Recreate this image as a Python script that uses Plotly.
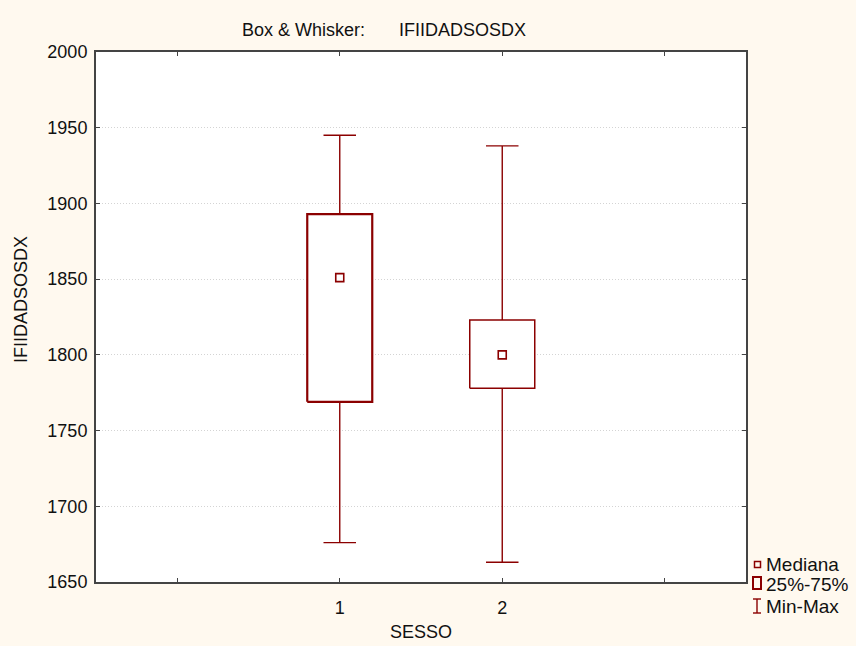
import plotly.graph_objects as go

# Summary statistics of IFIIDADSOSDX by SESSO
groups = [1, 2]
mins = [1676, 1663]
q1 = [1769, 1778]
medians = [1851, 1800]
q3 = [1893, 1823]
maxs = [1945, 1938]

y_ticks = [1650, 1700, 1750, 1800, 1850, 1900, 1950, 2000]
x_ticks = [0, 1, 2, 3]
x_tick_labels = ["", "1", "2", ""]

legend_labels = ["Mediana", "25%-75%", "Min-Max"]

COLOR = "#8B0000"
PAPER_BG = "#FFF9EF"
FONT = "Liberation Sans, Arial, sans-serif"
TEXT = "#111"
BOX_HALF = 0.2
CAP_HALF = 0.1
box_line_widths = [2.2, 1.5]

W, H = 856, 646
M_L, M_R, M_T, M_B = 96, 110, 52, 64
PLOT_W = W - M_L - M_R
PLOT_H = H - M_T - M_B


def px_x(p):
    return (p - M_L) / PLOT_W


def px_y(p):
    return (H - M_B - p) / PLOT_H


fig = go.Figure()

for g, lo, a, med, b, hi, lw in zip(groups, mins, q1, medians, q3, maxs, box_line_widths):
    # whiskers with end caps
    fig.add_trace(go.Scatter(
        x=[g, g, None, g, g, None, g - CAP_HALF, g + CAP_HALF, None, g - CAP_HALF, g + CAP_HALF],
        y=[lo, a, None, b, hi, None, lo, lo, None, hi, hi],
        mode="lines", line=dict(color=COLOR, width=1.4),
        hoverinfo="skip", showlegend=False,
    ))
    # interquartile box
    fig.add_trace(go.Scatter(
        x=[g - BOX_HALF, g + BOX_HALF, g + BOX_HALF, g - BOX_HALF, g - BOX_HALF],
        y=[a, a, b, b, a],
        mode="lines", fill="toself", fillcolor="white",
        line=dict(color=COLOR, width=lw),
        hoverinfo="skip", showlegend=False,
    ))

# medians
fig.add_trace(go.Scatter(
    x=groups, y=medians, mode="markers",
    marker=dict(symbol="square-open", size=8, color=COLOR, line=dict(width=1.6)),
    showlegend=False,
))

shapes = []
annotations = []

# legend: median square, quartile box, min-max beam
shapes.append(dict(type="rect", xref="paper", yref="paper",
                   x0=px_x(754.5), x1=px_x(760.5), y0=px_y(567.5), y1=px_y(561.5),
                   line=dict(color=COLOR, width=1.5), fillcolor="rgba(0,0,0,0)"))
shapes.append(dict(type="rect", xref="paper", yref="paper",
                   x0=px_x(753), x1=px_x(761), y0=px_y(589), y1=px_y(577),
                   line=dict(color=COLOR, width=2), fillcolor="rgba(0,0,0,0)"))
for seg in [((757, 599), (757, 613)), ((753, 599), (761, 599)), ((753, 613), (761, 613))]:
    (xa, ya), (xb, yb) = seg
    shapes.append(dict(type="line", xref="paper", yref="paper",
                       x0=px_x(xa), x1=px_x(xb), y0=px_y(ya), y1=px_y(yb),
                       line=dict(color=COLOR, width=1.4)))

for label, yp in zip(legend_labels, [564.5, 584, 606]):
    annotations.append(dict(text=label, xref="paper", yref="paper",
                            x=px_x(764), y=px_y(yp), xanchor="left", yanchor="middle",
                            showarrow=False, font=dict(family=FONT, size=19, color=TEXT)))

# title pieces
annotations.append(dict(text="Box & Whisker:", xref="paper", yref="paper",
                        x=px_x(240), y=px_y(30), xanchor="left", yanchor="middle",
                        showarrow=False, font=dict(family=FONT, size=18, color=TEXT)))
annotations.append(dict(text="IFIIDADSOSDX", xref="paper", yref="paper",
                        x=px_x(397), y=px_y(30), xanchor="left", yanchor="middle",
                        showarrow=False, font=dict(family=FONT, size=18, color=TEXT)))

# axis titles
annotations.append(dict(text="SESSO", xref="paper", yref="paper",
                        x=0.5, y=px_y(632), xanchor="center", yanchor="middle",
                        showarrow=False, font=dict(family=FONT, size=18, color=TEXT)))
annotations.append(dict(text="IFIIDADSOSDX", xref="paper", yref="paper",
                        x=px_x(21), y=px_y(300), xanchor="center", yanchor="middle",
                        textangle=-90, showarrow=False,
                        font=dict(family=FONT, size=18, color=TEXT)))

fig.update_layout(
    width=W, height=H,
    margin=dict(l=M_L, r=M_R, t=M_T, b=M_B),
    paper_bgcolor=PAPER_BG, plot_bgcolor="white",
    font=dict(family=FONT, size=18, color=TEXT),
    shapes=shapes, annotations=annotations,
    showlegend=False,
)

fig.update_xaxes(
    range=[-0.5, 3.5], tickvals=x_ticks, ticktext=x_tick_labels,
    showline=True, linecolor="#444", linewidth=2, mirror="ticks",
    ticks="inside", ticklen=4, tickcolor="#444", tickwidth=1,
    ticklabelstandoff=8,
    showgrid=False, zeroline=False,
)
fig.update_yaxes(
    range=[1650, 2000], tickvals=y_ticks,
    showline=True, linecolor="#444", linewidth=2, mirror="ticks",
    ticks="inside", ticklen=4, tickcolor="#444", tickwidth=1,
    ticklabelstandoff=3,
    showgrid=True, gridcolor="#d4d4d4", griddash="1px,2px", gridwidth=1,
    zeroline=False,
)

fig.write_html("out.html")
